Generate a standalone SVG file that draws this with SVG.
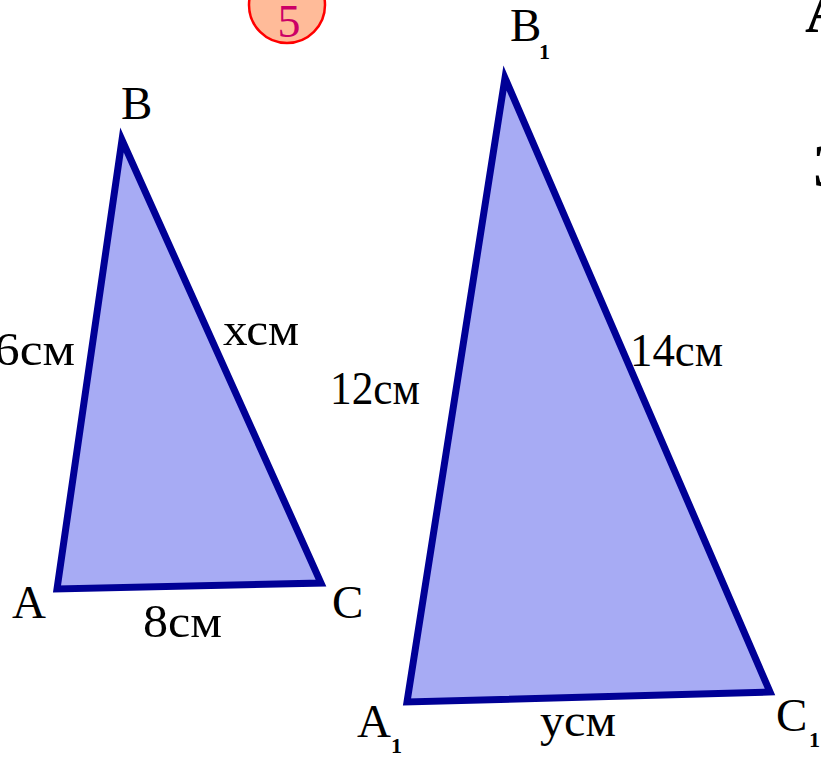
<svg xmlns="http://www.w3.org/2000/svg" width="821" height="757" viewBox="0 0 821 757">
<style>
.tri{fill:#a7abf4;stroke:#000096;stroke-width:7;stroke-linejoin:miter}
.lbl{font-family:"Liberation Serif","DejaVu Serif",serif;font-size:47px;fill:#000}
.sub{font-family:"Liberation Serif","DejaVu Serif",serif;font-size:22px;font-weight:bold;fill:#000}
.edge{font-family:"Liberation Serif","DejaVu Serif",serif;font-size:62px;font-weight:bold;fill:#000}
</style>
<rect width="821" height="757" fill="#ffffff"/>
<g id="badge">
<circle cx="287" cy="5" r="38" fill="#ffbb99" stroke="#ff0000" stroke-width="2.5"/>
<text x="289" y="37" text-anchor="middle" style="font-family:'Liberation Serif',serif;font-size:46px;fill:#cc0066">5</text>
</g>
<g id="edgetext">
<text class="edge" x="805" y="32">А</text>
<text class="edge" x="813" y="186">З</text>
</g>
<g id="triangle-ABC">
<polygon class="tri" points="57,589 122,140 321,583"/>
<text class="lbl" x="121" y="119">B</text>
<text class="lbl" x="12" y="618">A</text>
<text class="lbl" x="332" y="618">C</text>
<text class="lbl" x="-6" y="365" textLength="81" lengthAdjust="spacingAndGlyphs">6см</text>
<text class="lbl" x="223" y="345" textLength="76" lengthAdjust="spacingAndGlyphs">хсм</text>
<text class="lbl" x="143" y="637" textLength="79" lengthAdjust="spacingAndGlyphs">8см</text>
</g>
<g id="triangle-A1B1C1">
<polygon class="tri" points="407,702 505,78 770,692"/>
<text class="lbl" x="510" y="41">B</text>
<text class="sub" x="539" y="59">1</text>
<text class="lbl" x="357" y="737">A</text>
<text class="sub" x="391" y="753">1</text>
<text class="lbl" x="776" y="731">C</text>
<text class="sub" x="809" y="747">1</text>
<text class="lbl" x="330" y="404" textLength="90" lengthAdjust="spacingAndGlyphs">12см</text>
<text class="lbl" x="630" y="366" textLength="93" lengthAdjust="spacingAndGlyphs">14см</text>
<text class="lbl" x="540" y="736" textLength="76" lengthAdjust="spacingAndGlyphs">усм</text>
</g>
</svg>
